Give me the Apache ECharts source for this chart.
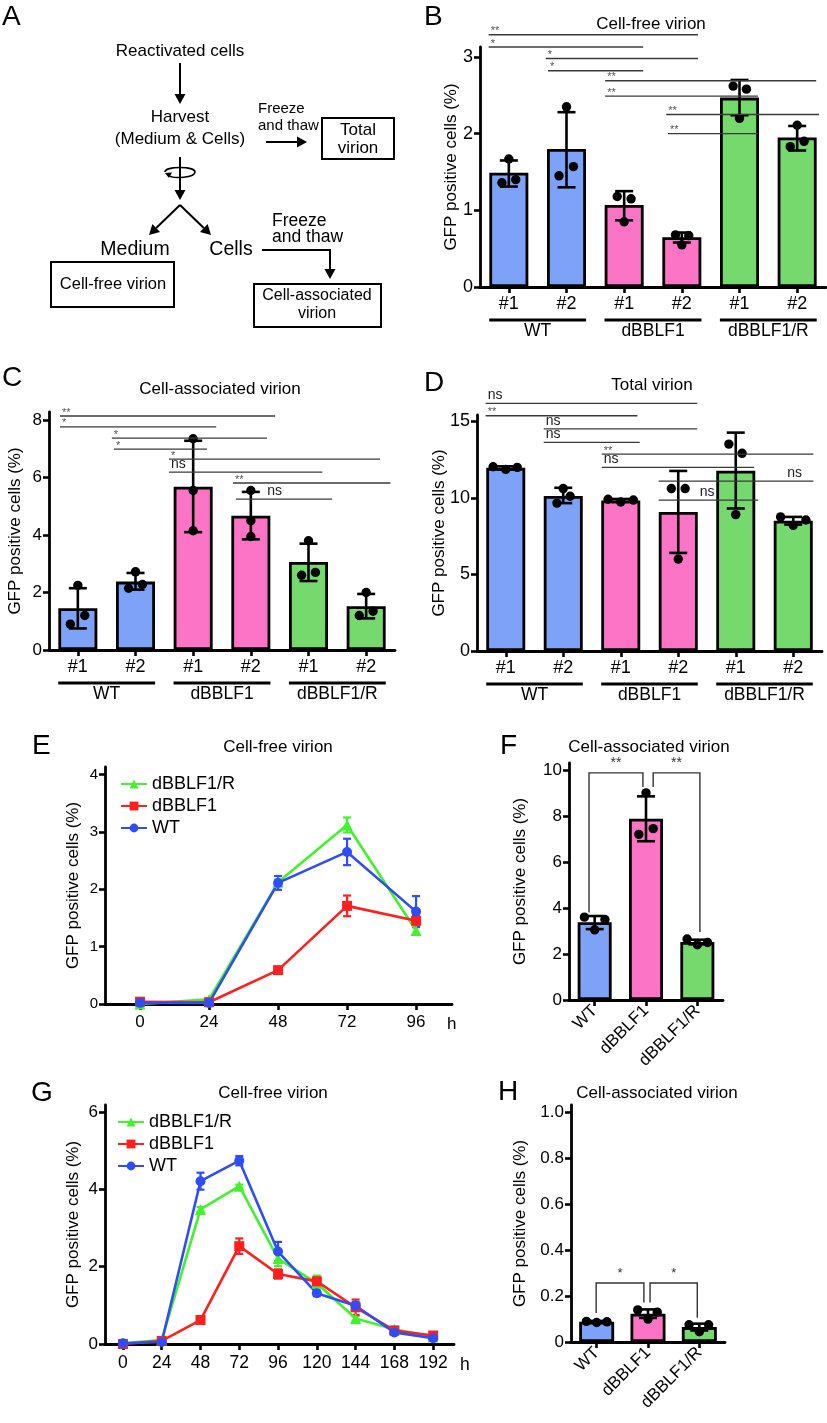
<!DOCTYPE html>
<html><head><meta charset="utf-8">
<script src="https://cdn.jsdelivr.net/npm/echarts@6/dist/echarts.min.js"></script>
<style>html,body{margin:0;padding:0;background:#fff}#c{width:827px;height:1423px}</style>
</head><body><div id="c"></div>
<script>
const FONT = '"Liberation Sans", Arial, Helvetica, sans-serif';

// ---------- shared categories ----------
const barCategories = ['#1', '#2', '#1', '#2', '#1', '#2'];
const strainGroups = ['WT', 'dBBLF1', 'dBBLF1/R'];
const strainColors = ['#7DA2F7', '#FC74C6', '#76D96E'];
const barStrain = [0, 0, 1, 1, 2, 2];
const lineColors = {WT: '#2E4DF7', dBBLF1: '#FF1F1F', 'dBBLF1/R': '#41F22C'};

// ---------- B: cell-free virion ----------
const bMean = [1.49, 1.80, 1.07, 0.65, 2.47, 1.95];
const bLow  = [1.31, 1.30, 0.87, 0.58, 2.24, 1.78];
const bHigh = [1.65, 2.28, 1.25, 0.71, 2.70, 2.10];
const bDots = [
  [[1.67, 0], [1.36, -0.12], [1.40, 0.12]],
  [[2.35, 0], [1.45, -0.13], [1.57, 0.12]],
  [[0.85, 0], [1.18, -0.12], [1.15, 0.12]],
  [[0.55, 0], [0.68, -0.11], [0.67, 0.12]],
  [[2.20, 0], [2.62, -0.11], [2.58, 0.12]],
  [[2.11, 0], [1.83, -0.12], [1.90, 0.12]]
];
const bSig = [
  [-0.35, 3.28, 3.29, '**'], [-0.35, 2.33, 3.13, '*'], [0.64, 3.28, 2.98, '*'], [0.68, 2.33, 2.82, '*'],
  [1.67, 5.33, 2.69, '**'], [1.67, 4.32, 2.49, '**'], [2.73, 5.38, 2.25, '**'], [2.76, 4.32, 2.00, '**']
];

// ---------- C: cell-associated virion ----------
const cMean = [1.45, 2.38, 5.68, 4.67, 3.06, 1.52];
const cLow  = [0.75, 2.10, 4.10, 3.85, 2.40, 1.10];
const cHigh = [2.15, 2.68, 7.28, 5.50, 3.70, 1.95];
const cDots = [
  [[2.25, 0], [0.90, -0.13], [1.20, 0.12]],
  [[2.72, 0], [2.15, -0.12], [2.28, 0.12]],
  [[7.35, 0], [5.55, 0], [4.15, 0]],
  [[5.55, 0], [4.50, 0], [3.95, 0]],
  [[3.80, 0], [2.60, -0.12], [2.70, 0.12]],
  [[2.00, 0], [1.20, -0.12], [1.35, 0.12]]
];
const cSig = [
  [-0.31, 3.42, 8.14, '**'], [-0.31, 2.40, 7.76, '*'], [0.59, 3.28, 7.37, '*'], [0.625, 2.24, 6.99, '*'],
  [1.58, 5.24, 6.64, '*'], [1.58, 4.24, 6.19, 'ns'], [2.69, 5.42, 5.81, '**'], [2.74, 4.41, 5.25, 'ns', 3.25]
];

// ---------- D: total virion ----------
const dMean = [11.95, 10.12, 9.82, 9.07, 11.77, 8.50];
const dLow  = [11.85, 9.65, 9.72, 6.40, 9.30, 8.25];
const dHigh = [12.05, 10.65, 9.92, 11.75, 14.25, 8.75];
const dDots = [
  [[12.02, -0.22], [11.85, 0], [11.98, 0.2]],
  [[10.60, 0], [9.65, -0.11], [10.10, 0.12]],
  [[9.90, -0.22], [9.72, 0], [9.85, 0.22]],
  [[10.60, -0.12], [10.60, 0.12], [6.00, 0]],
  [[13.50, -0.12], [12.90, 0.11], [8.90, 0]],
  [[8.75, -0.22], [8.20, 0], [8.55, 0.22]]
];
const dSig = [
  [-0.35, 3.33, 16.16, 'ns'], [-0.35, 2.29, 15.35, '**'], [0.66, 3.33, 14.50, 'ns'], [0.66, 2.33, 13.61, 'ns'],
  [1.67, 5.35, 12.85, '**'], [1.67, 4.32, 11.98, 'ns'], [2.66, 5.35, 11.09, 'ns', 4.86], [2.66, 4.39, 9.85, 'ns', 3.34]
];

// ---------- E: time course (cell-free) ----------
const eHours = [0, 24, 48, 72, 96];
const eWT = [0.02, 0.02, 2.11, 2.65, 1.61];
const eWTsd = [0.01, 0.01, 0.12, 0.23, 0.27];
const eD = [0.04, 0.03, 0.59, 1.71, 1.45];
const eDsd = [0.01, 0.01, 0.03, 0.18, 0.10];
const eR = [0.00, 0.08, 2.12, 3.12, 1.28];
const eRsd = [0.01, 0.02, 0.05, 0.13, 0.07];
const eTicks = [0, 24, 48, 72, 96];

// ---------- F: cell-associated ----------
const fMean = [3.38, 7.88, 2.52];
const fLow  = [3.08, 6.90, 2.42];
const fHigh = [3.65, 8.85, 2.62];
const fDots = [
  [[3.60, -0.2], [3.05, 0], [3.50, 0.2]],
  [[9.00, 0], [7.20, -0.14], [7.45, 0.14]],
  [[2.65, -0.2], [2.40, 0], [2.50, 0.2]]
];
const fBrackets = [[-0.11, 0.94, 9.87, 3.8, 9.26, '**'], [1.14, 2.05, 9.87, 9.26, 2.95, '**']];

// ---------- G: time course (cell-free) ----------
const gHours = [0, 24, 48, 72, 96, 120, 144, 168, 192];
const gWT = [0.02, 0.05, 4.21, 4.74, 2.39, 1.31, 0.99, 0.30, 0.15];
const gWTsd = [0.01, 0.01, 0.22, 0.12, 0.25, 0.07, 0.10, 0.06, 0.03];
const gD = [0.00, 0.08, 0.62, 2.53, 1.81, 1.62, 0.95, 0.35, 0.22];
const gDsd = [0.01, 0.01, 0.07, 0.20, 0.12, 0.10, 0.20, 0.05, 0.03];
const gR = [0.02, 0.10, 3.48, 4.08, 2.21, 1.57, 0.66, 0.38, 0.18];
const gRsd = [0.01, 0.02, 0.06, 0.04, 0.20, 0.20, 0.06, 0.07, 0.03];
const gTicks = [0, 24, 48, 72, 96, 120, 144, 168, 192];

// ---------- H: cell-associated ----------
const hMean = [0.088, 0.123, 0.065];
const hLow  = [0.084, 0.105, 0.050];
const hHigh = [0.092, 0.142, 0.080];
const hDots = [
  [[0.090, -0.2], [0.085, 0], [0.088, 0.2]],
  [[0.140, -0.2], [0.100, 0], [0.130, 0.18]],
  [[0.075, -0.2], [0.045, 0], [0.075, 0.18]]
];
const hBrackets = [[-0.01, 0.92, 0.257, 0.126, 0.172, '*'], [1.04, 1.96, 0.257, 0.172, 0.106, '*']];

// ================= build option =================
const grids = [], xAxes = [], yAxes = [], series = [], legends = [], gfx = [];
const YNAME = 'GFP positive cells (%)';

function yAxisCfg(gi, max, ticks, nameGap, fontSize, fmt) {
  return {
    gridIndex: gi, type: 'value', min: 0, max: max,
    axisLine: {show: true, onZero: false, lineStyle: {color: '#000', width: 2.8}},
    axisTick: {show: true, length: 6, customValues: ticks, lineStyle: {color: '#000', width: 2.6}},
    axisLabel: {show: true, customValues: ticks, color: '#000', fontSize: fontSize, fontFamily: FONT, margin: 7,
      formatter: fmt || (v => String(v))},
    splitLine: {show: false},
    name: YNAME, nameLocation: 'middle', nameGap: nameGap, nameMoveOverlap: false,
    nameTextStyle: {color: '#000', fontSize: 17, fontFamily: FONT}
  };
}
function catAxisCfg(gi, cats, fontSize, rotate) {
  return {
    gridIndex: gi, type: 'category', data: cats,
    axisLine: {show: true, lineStyle: {color: '#000', width: 2.8}},
    axisTick: {show: true, alignWithLabel: true, length: 6, lineStyle: {color: '#000', width: 2.6}},
    axisLabel: {color: '#000', fontSize: fontSize, fontFamily: FONT, margin: 8, rotate: rotate || 0, interval: 0},
    splitLine: {show: false}
  };
}

function errBarSeries(gi, xs, lows, highs, cap, color, lw, z) {
  return {
    type: 'custom', xAxisIndex: gi, yAxisIndex: gi, z: z || 4, silent: true,
    data: xs.map((x, i) => [x, lows[i], highs[i]]),
    renderItem: function (params, api) {
      const x = api.value(0);
      const p1 = api.coord([x, api.value(1)]);
      const p2 = api.coord([x, api.value(2)]);
      const st = {stroke: color, lineWidth: lw};
      return {type: 'group', children: [
        {type: 'line', shape: {x1: p1[0], y1: p1[1], x2: p2[0], y2: p2[1]}, style: st},
        {type: 'line', shape: {x1: p1[0] - cap / 2, y1: p1[1], x2: p1[0] + cap / 2, y2: p1[1]}, style: st},
        {type: 'line', shape: {x1: p2[0] - cap / 2, y1: p2[1], x2: p2[0] + cap / 2, y2: p2[1]}, style: st}
      ]};
    }
  };
}

function dotSeries(gi, dots) {
  const flat = [];
  dots.forEach((arr, ci) => arr.forEach(d => flat.push([ci, d[0], d[1]])));
  return {
    type: 'custom', xAxisIndex: gi, yAxisIndex: gi, z: 5, silent: true,
    data: flat.map(d => [d[0], d[1]]),
    renderItem: function (params, api) {
      const d = flat[params.dataIndex];
      const p = api.coord([d[0], d[1]]);
      const bw = api.size([1, 0])[0];
      return {type: 'circle', shape: {cx: p[0] + d[2] * bw, cy: p[1], r: 4.7}, style: {fill: '#000'}};
    }
  };
}

function sigSeries(gi, sig) {
  return {
    type: 'custom', xAxisIndex: gi, yAxisIndex: gi, z: 6, silent: true, clip: false,
    data: sig.map(s => [0, s[2]]),
    renderItem: function (params, api) {
      const s = sig[params.dataIndex];
      const base = api.coord([0, s[2]]);
      const bw = api.size([1, 0])[0];
      const xa = base[0] + s[0] * bw, xb = base[0] + s[1] * bw;
      const lx = base[0] + (s[4] != null ? s[4] : s[0]) * bw + 2;
      const ns = s[3] === 'ns';
      return {type: 'group', children: [
        {type: 'line', shape: {x1: xa, y1: base[1], x2: xb, y2: base[1]}, style: {stroke: '#3a3a3a', lineWidth: 1.3}},
        {type: 'text', style: {text: s[3], x: lx, y: base[1] + (ns ? -1 : 2), align: 'left', verticalAlign: 'bottom',
          fontSize: ns ? 14 : 11, fontFamily: FONT, fill: ns ? '#222' : '#555'}}
      ]};
    }
  };
}

function bracketSeries(gi, br, fontSize) {
  return {
    type: 'custom', xAxisIndex: gi, yAxisIndex: gi, z: 6, silent: true, clip: false,
    data: br.map(b => [0, b[2]]),
    renderItem: function (params, api) {
      const b = br[params.dataIndex];
      const top = api.coord([0, b[2]]);
      const bw = api.size([1, 0])[0];
      const xa = top[0] + b[0] * bw, xb = top[0] + b[1] * bw;
      const yl = api.coord([0, b[3]])[1], yr = api.coord([0, b[4]])[1];
      return {type: 'group', children: [
        {type: 'polyline', shape: {points: [[xa, yl], [xa, top[1]], [xb, top[1]], [xb, yr]]},
          style: {stroke: '#333', lineWidth: 1.4, fill: null}},
        {type: 'text', style: {text: b[5], x: (xa + xb) / 2, y: top[1] - 3, align: 'center', verticalAlign: 'bottom',
          fontSize: fontSize, fontFamily: FONT, fill: '#333'}}
      ]};
    }
  };
}

function groupSeries(gi, names, dy1, dy2) {
  return {
    type: 'custom', xAxisIndex: gi, yAxisIndex: gi, z: 6, silent: true, clip: false,
    data: names.map((n, g) => [2 * g, 0]),
    renderItem: function (params, api) {
      const g = params.dataIndex;
      const base = api.coord([0, 0]);
      const bw = api.size([1, 0])[0];
      const x1 = base[0] + (2 * g - 0.34) * bw, x2 = base[0] + (2 * g + 1.34) * bw;
      return {type: 'group', children: [
        {type: 'line', shape: {x1: x1, y1: base[1] + dy1, x2: x2, y2: base[1] + dy1}, style: {stroke: '#000', lineWidth: 2.8}},
        {type: 'text', style: {text: names[g], x: (x1 + x2) / 2, y: base[1] + dy2, align: 'center', verticalAlign: 'middle',
          fontSize: 17.5, fontFamily: FONT, fill: '#000'}}
      ]};
    }
  };
}

function barPanel(gi, box, cats, colorIdx, mean, low, high, dots, yMax, yTicks, nameGap, yFont, xFont, rotate, barW, fmt) {
  grids.push(Object.assign({outerBoundsMode: 'none', containLabel: false}, box));
  xAxes.push(catAxisCfg(gi, cats, xFont, rotate));
  yAxes.push(yAxisCfg(gi, yMax, yTicks, nameGap, yFont, fmt));
  series.push({
    type: 'bar', xAxisIndex: gi, yAxisIndex: gi, barWidth: barW, z: 2, silent: true,
    data: mean.map((v, i) => ({value: v, itemStyle: {color: strainColors[colorIdx[i]]}})),
    itemStyle: {borderColor: '#000', borderWidth: 2.8}
  });
  series.push(errBarSeries(gi, mean.map((v, i) => i), low, high, 18, '#000', 2.6, 4));
  series.push(dotSeries(gi, dots));
}

// B (grid 0)
barPanel(0, {left: 480, top: 47, width: 346, height: 240}, barCategories, barStrain, bMean, bLow, bHigh, bDots,
  3.13, [0, 1, 2, 3], 20, 18, 18, 0, 39);
series.push(sigSeries(0, bSig));
series.push(groupSeries(0, strainGroups, 33, 44));
// C (grid 1)
barPanel(1, {left: 49, top: 412, width: 346, height: 238}, barCategories, barStrain, cMean, cLow, cHigh, cDots,
  8.28, [0, 2, 4, 6, 8], 25, 17, 18, 0, 39);
series.push(sigSeries(1, cSig));
series.push(groupSeries(1, strainGroups, 33, 44));
// D (grid 2)
barPanel(2, {left: 477, top: 415, width: 345, height: 236}, barCategories, barStrain, dMean, dLow, dHigh, dDots,
  15.4, [0, 5, 10, 15], 29, 18, 18, 0, 39);
series.push(sigSeries(2, dSig));
series.push(groupSeries(2, strainGroups, 33, 44));

// line panels
function linePanel(gi, box, xMin, xMax, xTicks, yMax, yTicks, hours, sets, yFont, xFont, hGap, legendPos) {
  grids.push(Object.assign({outerBoundsMode: 'none', containLabel: false}, box));
  xAxes.push({
    gridIndex: gi, type: 'value', min: xMin, max: xMax,
    axisLine: {show: true, onZero: false, lineStyle: {color: '#000', width: 2.8}},
    axisTick: {show: true, length: 6, customValues: xTicks, lineStyle: {color: '#000', width: 2.6}},
    axisLabel: {show: true, customValues: xTicks, color: '#000', fontSize: xFont, fontFamily: FONT, margin: 10},
    splitLine: {show: false},
    name: 'h', nameLocation: 'end', nameGap: hGap, nameMoveOverlap: false,
    nameTextStyle: {color: '#000', fontSize: xFont, fontFamily: FONT, verticalAlign: 'top', padding: [12, 0, 0, 0]}
  });
  yAxes.push(yAxisCfg(gi, yMax, yTicks, 23, yFont));
  sets.forEach(s => {
    const c = lineColors[s.name];
    series.push({
      type: 'line', name: s.name, xAxisIndex: gi, yAxisIndex: gi, z: 3, silent: true,
      data: hours.map((h, i) => [h, s.v[i]]), symbol: s.symbol, symbolSize: s.size, showSymbol: true,
      color: c, lineStyle: {color: c, width: 2.6}, itemStyle: {color: c}
    });
    series.push(errBarSeries(gi, hours, hours.map((h, i) => s.v[i] - s.sd[i]), hours.map((h, i) => s.v[i] + s.sd[i]), 8, c, 2.2, 3));
  });
  legends.push(Object.assign({
    orient: 'vertical', padding: 0, itemWidth: 26, itemHeight: 11, itemGap: 4,
    data: ['dBBLF1/R', 'dBBLF1', 'WT'], selectedMode: false,
    textStyle: {color: '#000', fontSize: 18, fontFamily: FONT}
  }, legendPos));
}

// E (grid 3)
linePanel(3, {left: 105, top: 767, width: 347, height: 237}, -12.2, 108.5, eTicks, 4.13, [0, 1, 2, 3, 4], eHours,
  [{name: 'dBBLF1/R', v: eR, sd: eRsd, symbol: 'triangle', size: 11},
   {name: 'dBBLF1', v: eD, sd: eDsd, symbol: 'rect', size: 10},
   {name: 'WT', v: eWT, sd: eWTsd, symbol: 'circle', size: 10}],
  15, 17, -5, {left: 120, top: 775});

// F (grid 4)
barPanel(4, {left: 569, top: 763, width: 154, height: 237}, strainGroups, [0, 1, 2], fMean, fLow, fHigh, fDots,
  10.3, [0, 2, 4, 6, 8, 10], 40, 17, 17, 45, 34);
series.push(bracketSeries(4, fBrackets, 14));

// G (grid 5)
linePanel(5, {left: 105, top: 1105, width: 349, height: 239}, -11.1, 204.9, gTicks, 6.18, [0, 2, 4, 6], gHours,
  [{name: 'dBBLF1/R', v: gR, sd: gRsd, symbol: 'triangle', size: 11},
   {name: 'dBBLF1', v: gD, sd: gDsd, symbol: 'rect', size: 10},
   {name: 'WT', v: gWT, sd: gWTsd, symbol: 'circle', size: 10}],
  17, 17.5, 6, {left: 117, top: 1113});

// H (grid 6)
barPanel(6, {left: 571, top: 1105, width: 154, height: 237}, strainGroups, [0, 1, 2], hMean, hLow, hHigh, hDots,
  1.033, [0, 0.2, 0.4, 0.6, 0.8, 1.0], 42, 17, 17, 45, 35, v => (v === 0 ? '0' : v.toFixed(1)));
series.push(bracketSeries(6, hBrackets, 13));

// ================= graphic: panel A, letters, titles =================
function txt(s, x, y, size, align, weight) {
  return {type: 'text', z: 10, silent: true, style: {text: s, x: x, y: y, align: align || 'center', verticalAlign: 'middle',
    fontSize: size, fontFamily: FONT, fontWeight: weight || 'normal', fill: '#000'}};
}
function arrow(x1, y1, x2, y2) {
  const head = 10, hw = 5.5;
  const a = Math.atan2(y2 - y1, x2 - x1);
  const bx = x2 - head * Math.cos(a), by = y2 - head * Math.sin(a);
  const px = -Math.sin(a) * hw, py = Math.cos(a) * hw;
  return [
    {type: 'line', silent: true, shape: {x1: x1, y1: y1, x2: bx, y2: by}, style: {stroke: '#000', lineWidth: 2}},
    {type: 'polygon', silent: true, shape: {points: [[x2, y2], [bx + px, by + py], [bx - px, by - py]]}, style: {fill: '#000'}}
  ];
}
function box(x, y, w, h) {
  return {type: 'rect', silent: true, shape: {x: x, y: y, width: w, height: h}, style: {fill: null, stroke: '#000', lineWidth: 2}};
}

// panel letters
[['A', 2, 17], ['B', 424, 17], ['C', 2, 378], ['D', 424, 383], ['E', 32, 746], ['F', 500, 746], ['G', 31, 1093], ['H', 498, 1092]]
  .forEach(l => gfx.push(txt(l[0], l[1], l[2], 28, 'left')));
// titles
[['Cell-free virion', 651, 24], ['Cell-associated virion', 220, 389], ['Total virion', 652, 385],
 ['Cell-free virion', 278, 747], ['Cell-associated virion', 649, 747], ['Cell-free virion', 273, 1093],
 ['Cell-associated virion', 657, 1093]].forEach(t => gfx.push(txt(t[0], t[1], t[2], 17)));

// panel A diagram
gfx.push(txt('Reactivated cells', 180, 51, 17));
gfx.push(...arrow(180, 63, 180, 104));
gfx.push(txt('Harvest', 180, 117, 17));
gfx.push(txt('(Medium & Cells)', 180, 139, 17));
gfx.push(txt('Freeze', 258, 109, 15, 'left'));
gfx.push(txt('and thaw', 258, 126, 15, 'left'));
gfx.push(...arrow(266, 142, 307, 142));
gfx.push(box(322, 118, 72, 41));
gfx.push(txt('Total', 358, 130, 17));
gfx.push(txt('virion', 358, 148, 17));
gfx.push(...arrow(180, 157, 180, 200));
gfx.push({type: 'bezierCurve', silent: true, shape: {x1: 165, y1: 172, cpx1: 165, cpy1: 166, cpx2: 195, cpy2: 166, x2: 195, y2: 172},
  style: {stroke: '#000', lineWidth: 1.6, fill: null}});
gfx.push({type: 'bezierCurve', silent: true, shape: {x1: 195, y1: 172, cpx1: 195, cpy1: 178, cpx2: 173, cpy2: 178.5, x2: 170, y2: 176},
  style: {stroke: '#000', lineWidth: 1.6, fill: null}});
gfx.push({type: 'polygon', silent: true, shape: {points: [[165, 173], [172, 172.5], [169, 178]]}, style: {fill: '#000'}});
gfx.push(...arrow(180, 205, 149, 235));
gfx.push(...arrow(180, 205, 211, 235));
gfx.push(txt('Medium', 135, 250, 19.5));
gfx.push(txt('Cells', 231, 250, 19.5));
gfx.push(box(51, 262, 123, 45));
gfx.push(txt('Cell-free virion', 113, 284, 16.5));
gfx.push({type: 'line', silent: true, shape: {x1: 262, y1: 250, x2: 331, y2: 250}, style: {stroke: '#000', lineWidth: 2}});
gfx.push(...arrow(330, 249, 330, 279));
gfx.push(txt('Freeze', 272, 221, 17.5, 'left'));
gfx.push(txt('and thaw', 272, 237, 17.5, 'left'));
gfx.push(box(254, 284, 127, 43));
gfx.push(txt('Cell-associated', 317, 296, 16));
gfx.push(txt('virion', 317, 314, 16));

const chart = echarts.init(document.getElementById('c'), null, {renderer: 'canvas', width: 827, height: 1423});
chart.setOption({
  animation: false,
  backgroundColor: '#fff',
  textStyle: {fontFamily: FONT},
  grid: grids, xAxis: xAxes, yAxis: yAxes, series: series, legend: legends,
  graphic: {elements: gfx}
});
</script></body></html>
